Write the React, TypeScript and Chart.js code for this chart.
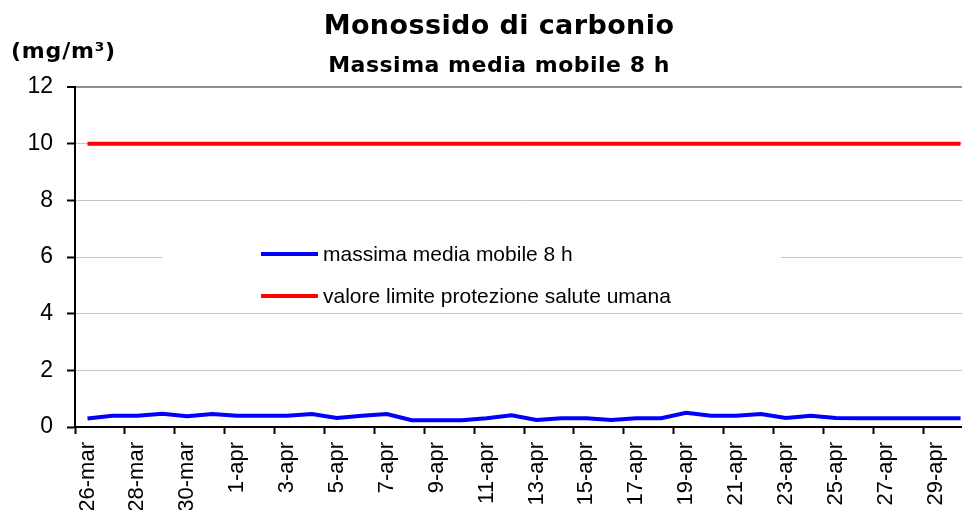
import React, { useEffect, useRef } from 'react';
import { Chart, registerables } from 'chart.js';

Chart.register(...registerables);

const CATEGORIES = [
  '26-mar', '27-mar', '28-mar', '29-mar', '30-mar', '31-mar',
  '1-apr', '2-apr', '3-apr', '4-apr', '5-apr', '6-apr', '7-apr', '8-apr', '9-apr', '10-apr',
  '11-apr', '12-apr', '13-apr', '14-apr', '15-apr', '16-apr', '17-apr', '18-apr', '19-apr', '20-apr',
  '21-apr', '22-apr', '23-apr', '24-apr', '25-apr', '26-apr', '27-apr', '28-apr', '29-apr', '30-apr',
];

const MASSIMA_MEDIA_MOBILE = [
  0.3, 0.4, 0.4, 0.47, 0.38, 0.46,
  0.4, 0.4, 0.4, 0.46, 0.32, 0.4, 0.46, 0.24, 0.24, 0.24,
  0.31, 0.41, 0.25, 0.31, 0.31, 0.25, 0.31, 0.31, 0.5, 0.4,
  0.4, 0.46, 0.32, 0.4, 0.32, 0.31, 0.31, 0.31, 0.31, 0.31,
];

const VALORE_LIMITE = [
  10, 10, 10, 10, 10, 10,
  10, 10, 10, 10, 10, 10, 10, 10, 10, 10,
  10, 10, 10, 10, 10, 10, 10, 10, 10, 10,
  10, 10, 10, 10, 10, 10, 10, 10, 10, 10,
];

const Y_TICKS = [0, 2, 4, 6, 8, 10, 12];

const TITLE = 'Monossido di carbonio';
const SUBTITLE = 'Massima media mobile 8 h';
const UNIT = '(mg/m\u00B3)';
const SERIES_LABELS = ['massima media mobile 8 h', 'valore limite protezione salute umana'];
const SERIES_COLORS = ['#0000ff', '#ff0000'];

const textPlugin = {
  id: 'customTexts',
  afterDraw(chart: any) {
    const ctx = chart.ctx as CanvasRenderingContext2D;
    ctx.save();
    ctx.fillStyle = '#000';
    ctx.textBaseline = 'alphabetic';
    ctx.textAlign = 'center';
    (ctx as any).letterSpacing = '0.4px';
    ctx.font = 'bold 27px "DejaVu Sans"';
    ctx.fillText(TITLE, 499, 34);
    (ctx as any).letterSpacing = '0.5px';
    ctx.font = 'bold 22px "DejaVu Sans"';
    ctx.fillText(SUBTITLE, 499, 72);
    ctx.textAlign = 'left';
    (ctx as any).letterSpacing = '0.8px';
    ctx.font = 'bold 22px "DejaVu Sans"';
    ctx.fillText(UNIT, 11, 58);
    (ctx as any).letterSpacing = '0px';

    // legend box inside plot
    const bx = 162, by = 236, bw = 619, bh = 76;
    ctx.fillStyle = '#ffffff';
    ctx.fillRect(bx, by, bw, bh);
    const rows = [254, 296];
    chart.data.datasets.forEach((ds: any, i: number) => {
      const y = rows[i];
      ctx.strokeStyle = ds.borderColor;
      ctx.lineWidth = 4;
      ctx.lineCap = 'butt';
      ctx.beginPath();
      ctx.moveTo(261, y);
      ctx.lineTo(318, y);
      ctx.stroke();
      ctx.fillStyle = '#000';
      ctx.font = '21px "Liberation Sans"';
      ctx.textBaseline = 'middle';
      ctx.fillText(ds.label, 323, y + 1);
    });
    ctx.restore();
  },
};

export default function App() {
  const canvasRef = useRef<HTMLCanvasElement | null>(null);

  useEffect(() => {
    if (!canvasRef.current) return;
    const chart = new Chart(canvasRef.current, {
      type: 'line',
      data: {
        labels: CATEGORIES,
        datasets: [
          {
            label: SERIES_LABELS[0],
            data: MASSIMA_MEDIA_MOBILE,
            borderColor: SERIES_COLORS[0],
            backgroundColor: SERIES_COLORS[0],
            borderWidth: 4,
            pointRadius: 0,
            tension: 0,
            fill: false,
          },
          {
            label: SERIES_LABELS[1],
            data: VALORE_LIMITE,
            borderColor: SERIES_COLORS[1],
            backgroundColor: SERIES_COLORS[1],
            borderWidth: 4,
            pointRadius: 0,
            tension: 0,
            fill: false,
          },
        ],
      },
      options: {
        animation: false,
        responsive: false,
        maintainAspectRatio: false,
        devicePixelRatio: 1,
        layout: { padding: { top: 87, right: 23, left: 0, bottom: 0 } },
        plugins: {
          legend: { display: false },
          title: { display: false },
          tooltip: { enabled: false },
        },
        scales: {
          x: {
            type: 'category',
            offset: true,
            afterFit: (s: any) => { s.height = 93; },
            grid: {
              display: true,
              offset: true,
              drawOnChartArea: false,
              drawTicks: true,
              tickLength: 7,
              tickWidth: 2,
              tickColor: (c: any) => (c.index % 2 === 0 ? '#000000' : 'rgba(0,0,0,0)'),
            },
            border: { display: true, color: '#000000', width: 2 },
            ticks: {
              autoSkip: false,
              maxRotation: 90,
              minRotation: 90,
              padding: 8,
              color: '#000000',
              font: { family: '"Liberation Sans"', size: 22 },
              callback: (_v: any, i: number) => (i % 2 === 0 ? CATEGORIES[i] : ''),
            },
          },
          y: {
            min: 0,
            max: 12,
            afterFit: (s: any) => { s.width = 75; },
            afterBuildTicks: (s: any) => { s.ticks = Y_TICKS.map((v) => ({ value: v })); },
            grid: {
              color: (c: any) => (c.tick && c.tick.value === 12 ? '#909090' : '#c4c4c4'),
              lineWidth: (c: any) => (c.tick && c.tick.value === 12 ? 2 : 1),
              drawTicks: true,
              tickLength: 8,
              tickWidth: 2,
              tickColor: '#000000',
            },
            border: { display: true, color: '#000000', width: 2 },
            ticks: {
              padding: 14,
              color: '#000000',
              font: { family: '"Liberation Sans"', size: 23 },
            },
          },
        },
      },
      plugins: [textPlugin],
    } as any);
    return () => chart.destroy();
  }, []);

  return (
    <div style={{ position: 'fixed', left: 0, top: 0, width: 962, height: 510, overflow: 'hidden', background: '#fff' }}>
      <canvas ref={canvasRef} width={996} height={520} style={{ display: 'block', width: 996, height: 520 }} />
    </div>
  );
}
